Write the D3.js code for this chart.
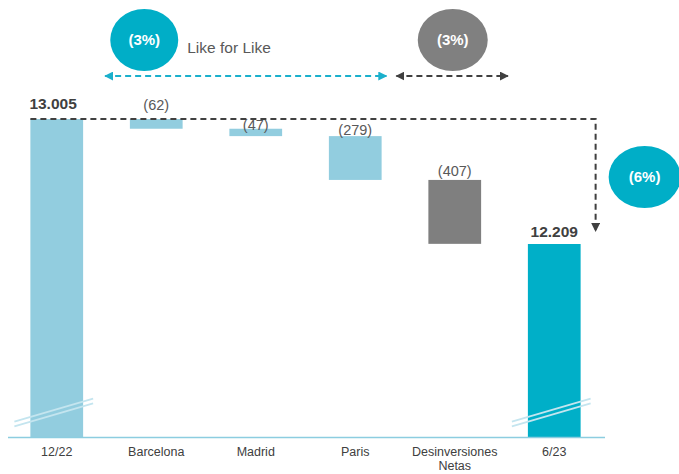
<!doctype html>
<html lang=en>

<head>
  <meta charset=utf-8>
  <title>Like for Like</title>
  <style>
    body { margin: 0; background: #fff; }
    text { font-family: "Liberation Sans", Arial, sans-serif; }
  </style>
</head>

<body>
  <svg></svg>
  <script src="https://d3js.org/d3.v7.min.js"></script>
  <script>
    // data
    var categories = ["12/22", "Barcelona", "Madrid", "Paris", "Desinversiones Netas", "6/23"];
    var values = [13005, -62, -47, -279, -407, 12209];
    var kinds = ["total", "lfl", "lfl", "lfl", "divest", "total"];
    var valueLabels = ["13.005", "(62)", "(47)", "(279)", "(407)", "12.209"];
    var labelDy = [-10, -9, 1, -1, -4, -7];
    var bubbleLabels = ["(3%)", "(3%)", "(6%)"];
    var lflLabel = "Like for Like";

    var width = 679;
    var height = 474;

    var svg = d3.select("svg")
      .attr("width", width)
      .attr("height", height);

    var x = d3.scaleBand()
      .domain(categories)
      .range([7, 604])
      .paddingInner(0.47)
      .paddingOuter(0.235);

    // axis is broken: bottom is not zero
    var y = d3.scaleLinear()
      .domain([10980, 13005])
      .range([437, 119]);

    var colors = { total: "#92cddf", lfl: "#92cddf", divest: "#7f7f7f" };
    var bw = x.bandwidth();

    // waterfall steps
    var running = 0;
    var bars = categories.map(function (c, i) {
      var v = values[i];
      var top, bottom;
      if (kinds[i] === "total") {
        running = v;
        top = v; bottom = y.domain()[0];
      } else {
        top = running; bottom = running + v;
        running = bottom;
      }
      return { cat: c, top: top, bottom: bottom, kind: kinds[i], i: i };
    });

    svg.selectAll("rect.bar")
      .data(bars)
      .enter().append("rect")
      .attr("class", "bar")
      .attr("x", function (d) { return x(d.cat); })
      .attr("width", bw)
      .attr("y", function (d) { return y(d.top); })
      .attr("height", function (d) { return y(d.bottom) - y(d.top); })
      .attr("fill", function (d) { return d.i === 5 ? "#00afc8" : colors[d.kind]; });

    // axis break marks
    [0, 5].forEach(function (i) {
      var x0 = x(categories[i]);
      [-2.3, 2.3].forEach(function (off) {
        svg.append("line")
          .attr("x1", x0 - 16).attr("y1", 424 + off)
          .attr("x2", x0 + bw + 10).attr("y2", 401 + off)
          .attr("stroke", "#c4e5ef")
          .attr("stroke-width", 1.8);
      });
    });

    // bottom axis
    var axis = svg.append("g")
      .attr("transform", "translate(0," + y.range()[0] + ")")
      .call(d3.axisBottom(x).tickSize(0).tickPadding(10));
    axis.select(".domain")
      .attr("d", "M8,0.5H605")
      .attr("stroke", "#8ccde0")
      .attr("stroke-width", 1.4);
    axis.selectAll(".tick text")
      .attr("fill", "#404040")
      .style("font-size", "12.5px")
      .style("font-family", "'Liberation Sans', Arial, sans-serif")
      .each(function (d) {
        var t = d3.select(this);
        var words = d.split(" ");
        if (words.length > 1) {
          t.text(null);
          t.append("tspan").attr("x", 0).attr("dy", "0.71em").text(words[0]);
          t.append("tspan").attr("x", 0).attr("dy", "1.15em").text(words[1]);
          t.attr("dy", null);
        }
      });

    // value labels
    svg.selectAll("text.val")
      .data(bars)
      .enter().append("text")
      .attr("class", "val")
      .attr("x", function (d) { return d.i === 0 ? x(d.cat) - 1 : x(d.cat) + bw / 2; })
      .attr("y", function (d) { return y(d.top) + labelDy[d.i]; })
      .attr("text-anchor", function (d) { return d.i === 0 ? "start" : "middle"; })
      .attr("fill", function (d) { return d.kind === "total" ? "#404040" : "#595959"; })
      .style("font-size", function (d) { return d.kind === "total" ? "15.5px" : "14.5px"; })
      .style("font-weight", function (d) { return d.kind === "total" ? "bold" : "normal"; })
      .text(function (d) { return valueLabels[d.i]; });

    // markers
    var defs = svg.append("defs");
    function marker(id, color) {
      defs.append("marker")
        .attr("id", id)
        .attr("viewBox", "0 0 10 10")
        .attr("refX", 9).attr("refY", 5)
        .attr("markerWidth", 4.5).attr("markerHeight", 4.5)
        .attr("markerUnits", "strokeWidth")
        .attr("orient", "auto-start-reverse")
        .append("path")
        .attr("d", "M0,0L10,5L0,10Z")
        .attr("fill", color);
    }
    marker("arrTeal", "#1ab0cc");
    marker("arrGray", "#404040");

    // total change dashed path
    var endX = x(categories[5]) + bw + 15;
    svg.append("path")
      .attr("d", "M" + x(categories[0]) + "," + y(values[0]) +
        "H" + endX + "V" + (y(values[5]) - 13))
      .attr("fill", "none")
      .attr("stroke", "#404040")
      .attr("stroke-width", 2)
      .attr("stroke-dasharray", "6,4")
      .attr("marker-end", "url(#arrGray)");

    // like for like arrow
    var arrowY = 76;
    svg.append("line")
      .attr("x1", x(categories[0]) + bw + 22).attr("y1", arrowY)
      .attr("x2", x(categories[4]) - 42).attr("y2", arrowY)
      .attr("stroke", "#1ab0cc")
      .attr("stroke-width", 2)
      .attr("stroke-dasharray", "6,4")
      .attr("marker-start", "url(#arrTeal)")
      .attr("marker-end", "url(#arrTeal)");

    svg.append("line")
      .attr("x1", x(categories[4]) - 32).attr("y1", arrowY)
      .attr("x2", x(categories[5]) - 20).attr("y2", arrowY)
      .attr("stroke", "#404040")
      .attr("stroke-width", 2)
      .attr("stroke-dasharray", "6,4")
      .attr("marker-start", "url(#arrGray)")
      .attr("marker-end", "url(#arrGray)");

    // bubbles
    var bubbles = [
      { cx: x(categories[1]) + bw / 2 - 12, cy: 40, rx: 34, ry: 31, fill: "#00aec7", label: bubbleLabels[0] },
      { cx: x(categories[4]) + bw / 2 - 2, cy: 40, rx: 35, ry: 31, fill: "#808080", label: bubbleLabels[1] },
      { cx: x(categories[5]) + bw + 64, cy: 177, rx: 36, ry: 31, fill: "#00aec7", label: bubbleLabels[2] }
    ];
    svg.selectAll("ellipse.bub")
      .data(bubbles)
      .enter().append("ellipse")
      .attr("class", "bub")
      .attr("cx", function (d) { return d.cx; })
      .attr("cy", function (d) { return d.cy; })
      .attr("rx", function (d) { return d.rx; })
      .attr("ry", function (d) { return d.ry; })
      .attr("fill", function (d) { return d.fill; });
    svg.selectAll("text.bub")
      .data(bubbles)
      .enter().append("text")
      .attr("class", "bub")
      .attr("x", function (d) { return d.cx; })
      .attr("y", function (d) { return d.cy + 5; })
      .attr("text-anchor", "middle")
      .attr("fill", "#fff")
      .style("font-size", "15px")
      .style("font-weight", "bold")
      .text(function (d) { return d.label; });

    svg.append("text")
      .attr("x", bubbles[0].cx + 43)
      .attr("y", 53)
      .attr("fill", "#595959")
      .style("font-size", "15.5px")
      .text(lflLabel);
  </script>
</body>

</html>
